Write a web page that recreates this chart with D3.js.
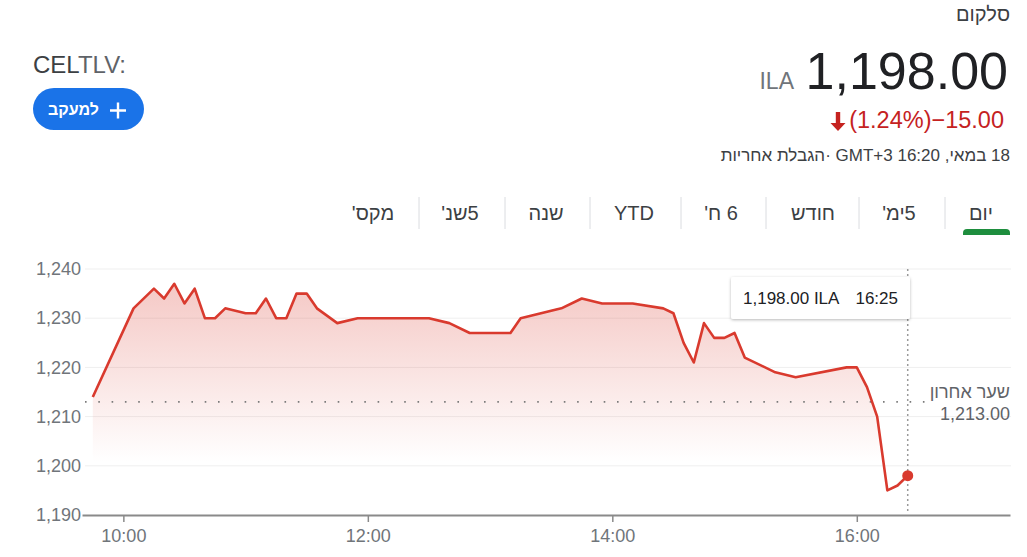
<!DOCTYPE html>
<html><head><meta charset="utf-8">
<script src="https://cdn.jsdelivr.net/npm/d3@7"></script>
<style>
html,body{margin:0;padding:0;background:#fff;}
body{width:1027px;height:557px;position:relative;overflow:hidden;font-family:"Liberation Sans",Arial,sans-serif;}
svg{position:absolute;left:0;top:0;}
.lbl{position:absolute;white-space:nowrap;}
</style></head><body>
<script>
// ---------- data ----------
const times = ["09:45","10:05","10:15","10:20","10:25","10:30","10:35","10:40","10:45","10:50",
  "11:00","11:05","11:10","11:15","11:20","11:25","11:30","11:35","11:45","11:55",
  "12:30","12:40","12:50","13:10","13:15","13:25","13:35","13:45","13:55","14:10",
  "14:25","14:30","14:35","14:40","14:45","14:50","14:55","15:00","15:05","15:20",
  "15:30","15:55","16:00","16:05","16:10","16:15","16:20","16:25"];
const values = [1214,1232,1236,1234,1237,1233,1236,1230,1230,1232,
  1231,1231,1234,1230,1230,1235,1235,1232,1229,1230,
  1230,1229,1227,1227,1230,1231,1232,1234,1233,1233,
  1232,1231,1225,1221,1229,1226,1226,1227,1222,1219,
  1218,1220,1220,1216,1210,1195,1196,1198];
const yTicks = [1190,1200,1210,1220,1230,1240];
const yTickLabels = ["1,190","1,200","1,210","1,220","1,230","1,240"];
const xTicks = ["10:00","12:00","14:00","16:00"];
const prevClose = 1213;
const tabs = ["מקס'","5שנ'","שנה","YTD","6 ח'","חודש","5ימ'","יום"];
const companyName = "סלקום";
const priceText = "1,198.00";
const currency = "ILA";
const changeText = "(1.24%)−15.00";
const dateText = "18 במאי, 16:20 GMT+3 ·הגבלת אחריות";
const tooltipValue = "1,198.00 ILA";
const tooltipTime = "16:25";
const prevCloseLabel = "שער אחרון";
const prevCloseText = "1,213.00";
const followText = "למעקב";

// ---------- layout ----------
const W = 1027, H = 557;
const tabCenters = [373, 460, 546, 634, 721, 813, 899, 981];
const tabSeps = [419, 505, 590, 681, 766, 859, 945];
const red = "#d93a2e";

const parse = s => { const [h,m] = s.split(":").map(Number); return new Date(2021,4,18,h,m,0); };
const x = d3.scaleTime()
  .domain([new Date(2021,4,18,9,39,42), new Date(2021,4,18,17,15,12)])
  .range([82, 1010]);
const y = d3.scaleLinear().domain([1190,1240]).range([515,269]);

const data = times.map((t,i) => ({t: parse(t), v: values[i]}));

const svg = d3.select("body").append("svg").attr("width",W).attr("height",H);
const defs = svg.append("defs");
const grad = defs.append("linearGradient").attr("id","fillGrad")
  .attr("gradientUnits","userSpaceOnUse").attr("x1",0).attr("x2",0).attr("y1",269).attr("y2",462);
grad.append("stop").attr("offset",0).attr("stop-color",red).attr("stop-opacity",0.30);
grad.append("stop").attr("offset",1).attr("stop-color",red).attr("stop-opacity",0);
const sh = defs.append("filter").attr("id","shadow").attr("x","-20%").attr("y","-30%").attr("width","140%").attr("height","170%");
sh.append("feDropShadow").attr("dx",0).attr("dy",1).attr("stdDeviation",1.6).attr("flood-color","#000").attr("flood-opacity",0.28);

function label(text, xx, cy, size, color, anchor, opts={}) {
  const d = d3.select("body").append("div").attr("class","lbl").text(text)
    .style("font-size", size+"px").style("line-height", size+"px").style("height", size+"px")
    .style("top", (cy - size/2)+"px").style("color", color);
  if (anchor === "end") d.style("right", (W - xx)+"px");
  else if (anchor === "middle") d.style("left",(xx-300)+"px").style("width","600px").style("text-align","center");
  else d.style("left", xx+"px");
  if (opts.dir) d.attr("dir", opts.dir);
  if (opts.weight) d.style("font-weight", opts.weight);
  return d;
}

// ---------- header ----------
label(companyName, 1010, 14, 20, "#3c4043", "end", {dir:"rtl"});
label(priceText, 1008, 90 - 0.358*52, 52, "#202124", "end");
label(currency, 794, 90 - 0.358*23, 23, "#70757a", "end");
label(changeText, 1004, 121, 23.5, "#c5221f", "end");
svg.append("path")
  .attr("d","M838,131 L830.5,123 L835.8,123 L835.8,112 L840.2,112 L840.2,123 L845.5,123 Z")
  .attr("fill","#c5221f");
label(dateText, 1010, 155, 17, "#3c4043", "end", {dir:"rtl"});

const tk = label("", 33, 65, 24, "#202124", "start");
tk.append("span").text("CEL").style("color","#3c4043");
tk.append("span").text("TLV:").style("color","#5f6368");

// follow button
svg.append("rect").attr("x",33).attr("y",88).attr("width",111).attr("height",42).attr("rx",21).attr("fill","#1a73e8");
svg.append("path").attr("d","M118,102.5 V118.5 M110,110.5 H126").attr("stroke","#fff").attr("stroke-width",2.4);
label(followText, 73.5, 110, 16, "#fff", "middle", {dir:"rtl", weight:"bold"});

// tabs
svg.selectAll("line.sep").data(tabSeps).join("line").attr("class","sep")
  .attr("x1",d=>d).attr("x2",d=>d).attr("y1",197).attr("y2",229)
  .attr("stroke","#dadce0").attr("stroke-width",1);
tabs.forEach((t,i) => label(t, tabCenters[i], 213, 20, "#3c4043", "middle", {dir:"rtl"}));
svg.append("path").attr("d","M963,235 V233 Q963,229 967,229 H1006 Q1010,229 1010,233 V235 Z").attr("fill","#1e8e3e");

// ---------- chart ----------
svg.append("g").selectAll("line").data(yTicks.filter(v=>v>1190)).join("line")
  .attr("x1",85).attr("x2",1011).attr("y1",d=>y(d)).attr("y2",d=>y(d))
  .attr("stroke","#efefef").attr("stroke-width",1);

const area = d3.area().x(d=>x(d.t)).y0(y(1190)).y1(d=>y(d.v));
svg.append("path").datum(data).attr("d",area).attr("fill","url(#fillGrad)");

// previous close dotted line
svg.append("line").attr("x1",85).attr("x2",928).attr("y1",y(prevClose)).attr("y2",y(prevClose))
  .attr("stroke","#7a7a7a").attr("stroke-width",1.6).attr("stroke-dasharray","1.6,11.7");

const line = d3.line().x(d=>x(d.t)).y(d=>y(d.v));
svg.append("path").datum(data).attr("d",line).attr("fill","none")
  .attr("stroke",red).attr("stroke-width",2.6).attr("stroke-linejoin","round");

// y axis
const yAxis = svg.append("g").attr("transform","translate(81,0)")
  .call(d3.axisLeft(y).tickValues(yTicks).tickFormat((d,i)=>yTickLabels[i]).tickSize(0).tickPadding(0));
yAxis.select(".domain").remove();
yAxis.selectAll("text").attr("font-family","Liberation Sans, Arial, sans-serif").attr("font-size",18).attr("fill","#70757a");

// x axis
const xAxis = svg.append("g").attr("transform","translate(0,515)")
  .call(d3.axisBottom(x).tickValues(xTicks.map(parse)).tickFormat(d3.timeFormat("%H:%M"))
    .tickSize(7).tickSizeOuter(0).tickPadding(7));
xAxis.select(".domain").attr("stroke","#8a8a8a").attr("stroke-width",2);
xAxis.selectAll(".tick line").attr("stroke","#8a8a8a").attr("stroke-width",1.5);
xAxis.selectAll("text").attr("font-family","Liberation Sans, Arial, sans-serif").attr("font-size",18).attr("fill","#70757a");

// hover line, tooltip, endpoint
const last = data[data.length-1];
const lx = x(last.t);
svg.append("line").attr("x1",lx).attr("x2",lx).attr("y1",269).attr("y2",514)
  .attr("stroke","#9a9a9a").attr("stroke-width",1.5).attr("stroke-dasharray","2,3");
svg.append("rect").attr("x",731).attr("y",277).attr("width",179).attr("height",42).attr("rx",2)
  .attr("fill","#fff").attr("filter","url(#shadow)");
svg.append("text").attr("x",743).attr("y",298).attr("dy","0.35em").text(tooltipValue)
  .attr("font-size",17).attr("fill","#202124").attr("font-family","Liberation Sans, Arial, sans-serif");
svg.append("text").attr("x",898).attr("y",298).attr("dy","0.35em").attr("text-anchor","end").text(tooltipTime)
  .attr("font-size",17).attr("fill","#202124").attr("font-family","Liberation Sans, Arial, sans-serif");
svg.append("circle").attr("cx",lx).attr("cy",y(last.v)).attr("r",5.5).attr("fill",red);

label(prevCloseLabel, 1010, 391.5, 18, "#5f6368", "end", {dir:"rtl"});
label(prevCloseText, 1010, 414, 18, "#5f6368", "end");
</script>
</body></html>
